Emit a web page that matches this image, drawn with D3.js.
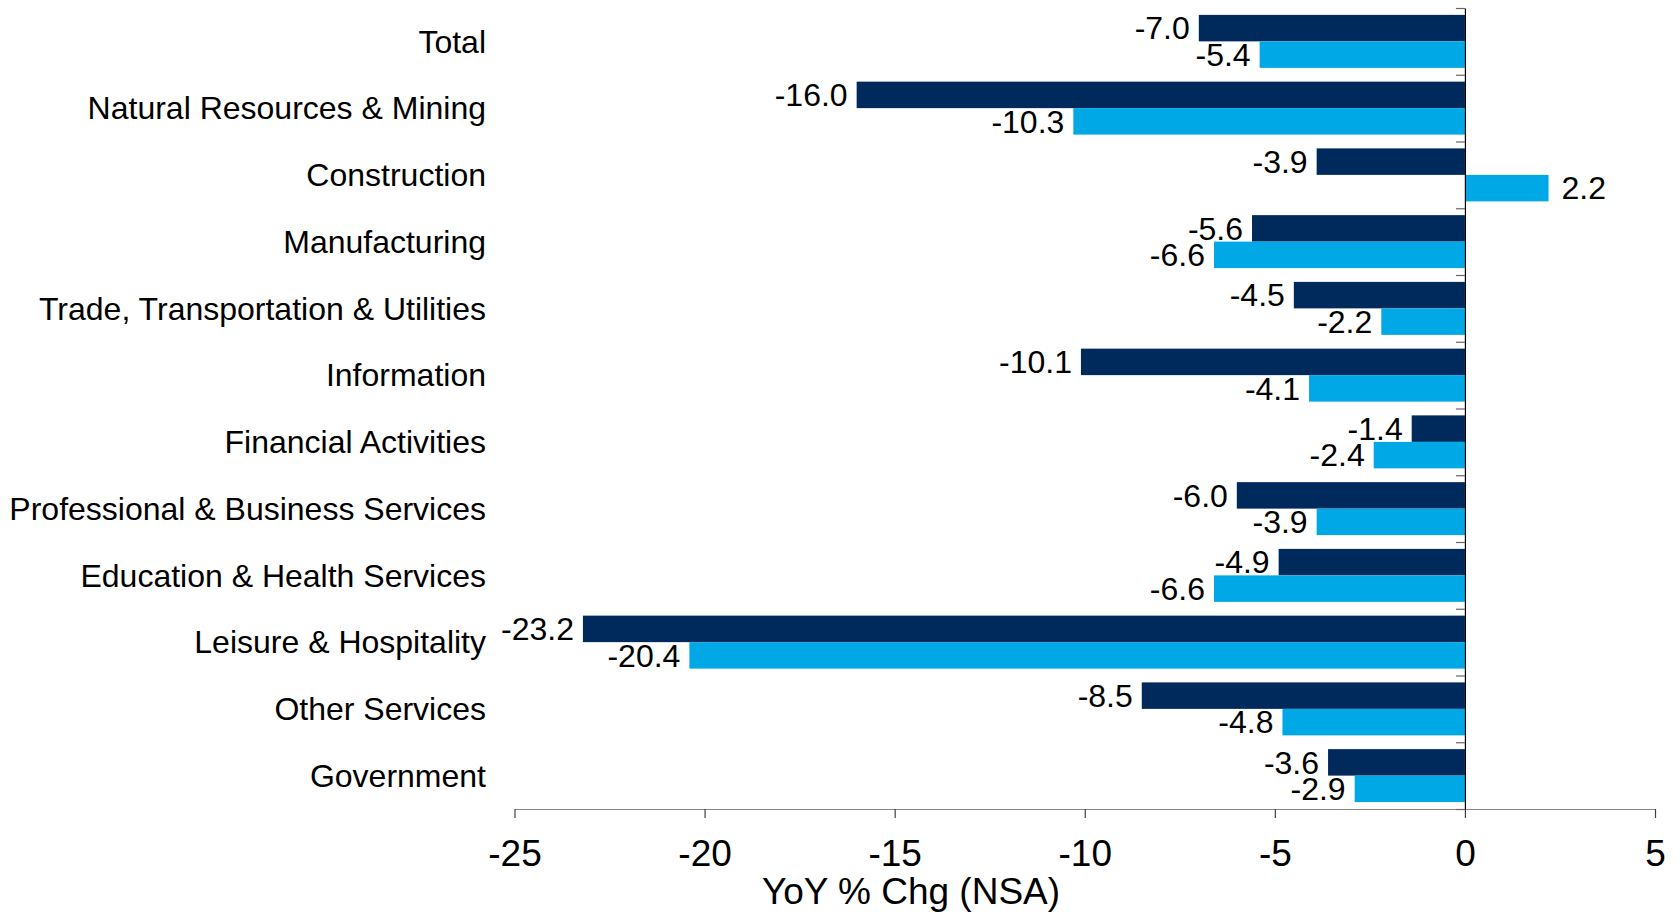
<!DOCTYPE html>
<html>
<head>
<meta charset="utf-8">
<script src="https://cdn.jsdelivr.net/npm/d3@7"></script>
<style>
  body { margin: 0; background: #fff; }
  svg text { font-family: "Liberation Sans", Arial, sans-serif; fill: #000; }
</style>
</head>
<body>
<svg id="chart" width="1680" height="915"></svg>
<script>
var categories = ["Total", "Natural Resources & Mining", "Construction", "Manufacturing",
  "Trade, Transportation & Utilities", "Information", "Financial Activities",
  "Professional & Business Services", "Education & Health Services",
  "Leisure & Hospitality", "Other Services", "Government"];
var seriesNames = ["prior", "latest"];
var priorValues = [-7.0, -16.0, -3.9, -5.6, -4.5, -10.1, -1.4, -6.0, -4.9, -23.2, -8.5, -3.6];
var latestValues = [-5.4, -10.3, 2.2, -6.6, -2.2, -4.1, -2.4, -3.9, -6.6, -20.4, -4.8, -2.9];
var xTicks = [-25, -20, -15, -10, -5, 0, 5];

var colors = { prior: "#002a5c", latest: "#00a9e6" };

// plain hyphen for negatives, like the original
var fmtValue = function(v) { return v.toFixed(1); };
var fmtTick = function(v) { return String(v); };

var svg = d3.select("#chart");
var plotTop = 8, plotBottom = 809;

var x = d3.scaleLinear().domain([-25, 5]).range([514.5, 1655]);

var y = d3.scaleBand()
  .domain(categories)
  .range([plotTop, plotBottom])
  .padding(0);

var ySub = d3.scaleBand()
  .domain(seriesNames)
  .range([0, y.bandwidth()])
  .paddingInner(0)
  .paddingOuter(0.26);

// x axis
var xAxis = svg.append("g")
  .attr("transform", "translate(0," + plotBottom + ")")
  .call(d3.axisBottom(x).tickValues(xTicks).tickFormat(fmtTick)
    .tickSize(9).tickSizeOuter(0).tickPadding(22));
xAxis.select(".domain").attr("stroke", "#868686").attr("stroke-width", 1.2);
xAxis.selectAll(".tick line").attr("stroke", "#404040").attr("stroke-width", 1.2);
xAxis.selectAll(".tick text")
  .style("font-size", "37px")
  .style("font-family", "'Liberation Sans', Arial, sans-serif")
  .attr("fill", "#000");

svg.append("text")
  .attr("x", 911)
  .attr("y", 904)
  .attr("text-anchor", "middle")
  .style("font-size", "37px")
  .text("YoY % Chg (NSA)");

// category labels
svg.append("g").selectAll("text")
  .data(categories)
  .enter().append("text")
  .attr("x", 486)
  .attr("y", function(d) { return y(d) + y.bandwidth() / 2; })
  .attr("dy", "0.35em")
  .attr("text-anchor", "end")
  .style("font-size", "32px")
  .text(function(d) { return d; });

// bars
var rows = categories.map(function(c, i) {
  return { cat: c, values: [
    { key: "prior", v: priorValues[i] },
    { key: "latest", v: latestValues[i] }
  ] };
});

var groups = svg.append("g").selectAll("g")
  .data(rows)
  .enter().append("g")
  .attr("transform", function(d) { return "translate(0," + y(d.cat) + ")"; });

groups.selectAll("rect")
  .data(function(d) { return d.values; })
  .enter().append("rect")
  .attr("x", function(d) { return x(Math.min(0, d.v)); })
  .attr("y", function(d) { return ySub(d.key); })
  .attr("width", function(d) { return Math.abs(x(d.v) - x(0)); })
  .attr("height", ySub.bandwidth())
  .attr("fill", function(d) { return colors[d.key]; });

groups.selectAll("text")
  .data(function(d) { return d.values; })
  .enter().append("text")
  .attr("x", function(d) { return d.v < 0 ? x(d.v) - 9 : x(d.v) + 13; })
  .attr("y", function(d) { return ySub(d.key) + ySub.bandwidth() / 2; })
  .attr("dy", "0.35em")
  .attr("text-anchor", function(d) { return d.v < 0 ? "end" : "start"; })
  .style("font-size", "32px")
  .text(function(d) { return fmtValue(d.v); });

// vertical zero axis with ticks at category boundaries
var yIdx = d3.scaleLinear().domain([0, categories.length]).range([plotTop, plotBottom]);
var yAxis = svg.append("g")
  .attr("transform", "translate(" + x(0) + ",0)")
  .call(d3.axisLeft(yIdx).tickValues(d3.range(categories.length + 1))
    .tickFormat("").tickSize(9).tickSizeOuter(0));
yAxis.select(".domain").attr("stroke", "#000").attr("stroke-width", 1.2);
yAxis.selectAll(".tick line").attr("stroke", "#666").attr("stroke-width", 1.2);
</script>
</body>
</html>
